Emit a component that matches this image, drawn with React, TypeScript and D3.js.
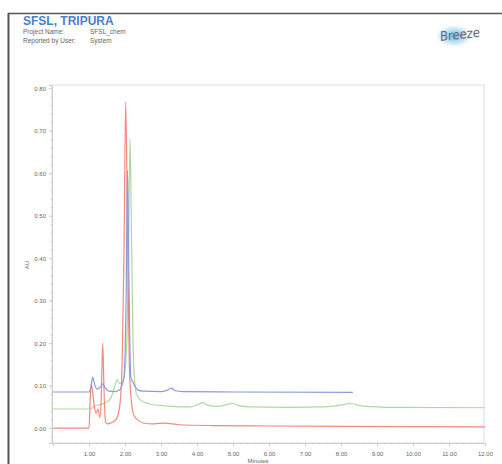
import React, { useRef, useEffect } from 'react';
import * as d3 from 'd3';

// retention times (min) and absorbance (AU) for each trace
const blueTimes = [0, 1.0, 1.05, 1.1, 1.15, 1.22, 1.3, 1.38, 1.45, 1.55, 1.7, 1.85, 1.97, 2.03, 2.07, 2.11, 2.16, 2.22, 2.27, 2.35, 2.5, 3.0, 3.2, 3.28, 3.4, 3.6, 5.0, 8.33];
const blueValues = [0.085, 0.085, 0.095, 0.12, 0.105, 0.092, 0.095, 0.104, 0.095, 0.087, 0.086, 0.09, 0.12, 0.3, 0.607, 0.35, 0.12, 0.108, 0.1, 0.09, 0.087, 0.086, 0.09, 0.094, 0.088, 0.086, 0.085, 0.084];

const greenTimes = [0, 1.05, 1.15, 1.3, 1.45, 1.6, 1.72, 1.78, 1.85, 1.95, 2.05, 2.1, 2.14, 2.18, 2.24, 2.32, 2.5, 2.8, 3.2, 3.8, 4.05, 4.15, 4.3, 4.6, 4.9, 5.0, 5.15, 5.5, 6.5, 7.5, 8.0, 8.25, 8.6, 9.5, 12];
const greenValues = [0.045, 0.045, 0.052, 0.055, 0.06, 0.07, 0.1, 0.115, 0.105, 0.11, 0.2, 0.45, 0.68, 0.45, 0.15, 0.08, 0.062, 0.055, 0.052, 0.05, 0.056, 0.06, 0.054, 0.051, 0.057, 0.058, 0.053, 0.05, 0.049, 0.05, 0.054, 0.058, 0.052, 0.049, 0.048];

const redTimes = [0, 1.0, 1.03, 1.06, 1.1, 1.15, 1.2, 1.25, 1.3, 1.34, 1.38, 1.42, 1.46, 1.52, 1.6, 1.75, 1.85, 1.92, 1.97, 2.02, 2.07, 2.12, 2.18, 2.25, 2.35, 2.5, 2.8, 3.1, 3.5, 4.5, 6, 8, 12];
const redValues = [0.0, 0.0, 0.06, 0.105, 0.085, 0.05, 0.035, 0.045, 0.025, 0.07, 0.2, 0.08, 0.015, 0.01, 0.012, 0.02, 0.05, 0.15, 0.4, 0.768, 0.45, 0.15, 0.06, 0.03, 0.02, 0.012, 0.01, 0.012, 0.008, 0.006, 0.005, 0.004, 0.003];

const xTicks = [1, 2, 3, 4, 5, 6, 7, 8, 9, 10, 11, 12];
const yTicks = [0, 0.1, 0.2, 0.3, 0.4, 0.5, 0.6, 0.7, 0.8];

const App = () => {
  const svgRef = useRef<SVGSVGElement>(null);

  useEffect(() => {
    if (!svgRef.current) return;
    const svg = d3.select(svgRef.current);
    svg.selectAll('*').remove();

    const left = 52, right = 484, top = 85, bottom = 443;
    const font = 'Liberation Sans, Arial, sans-serif';

    // page frame
    svg.append('line').attr('x1', 8).attr('x2', 502).attr('y1', 13.5).attr('y2', 13.5)
      .attr('stroke', '#555').attr('stroke-width', 1.5);
    svg.append('line').attr('x1', 8.5).attr('x2', 8.5).attr('y1', 13).attr('y2', 464)
      .attr('stroke', '#555').attr('stroke-width', 2);

    // header
    svg.append('text').attr('x', 23).attr('y', 25).attr('font-family', font)
      .attr('font-size', 12).attr('font-weight', 'bold').attr('fill', '#4a7fc4')
      .text('SFSL, TRIPURA');
    const info = [['Project Name:', 'SFSL_chem'], ['Reported by User:', 'System']];
    info.forEach((row, i) => {
      svg.append('text').attr('x', 23).attr('y', 34 + i * 8.5).attr('font-family', font)
        .attr('font-size', 6.5).attr('fill', '#666').text(row[0]);
      svg.append('text').attr('x', 90).attr('y', 34 + i * 8.5).attr('font-family', font)
        .attr('font-size', 6.5).attr('fill', '#666').text(row[1]);
    });

    // Breeze logo
    const defs = svg.append('defs');
    const grad = defs.append('radialGradient').attr('id', 'breezeGlow');
    grad.append('stop').attr('offset', '0%').attr('stop-color', '#5ab4e8').attr('stop-opacity', 0.9);
    grad.append('stop').attr('offset', '100%').attr('stop-color', '#5ab4e8').attr('stop-opacity', 0);
    svg.append('ellipse').attr('cx', 454).attr('cy', 36).attr('rx', 18).attr('ry', 11)
      .attr('fill', 'url(#breezeGlow)');
    svg.append('text').attr('transform', 'translate(440,41) rotate(-6) skewX(-6)')
      .attr('font-family', 'DejaVu Sans Condensed, sans-serif').attr('font-size', 13)
      .attr('fill', '#666').text('Breeze');

    const x = d3.scaleLinear().domain([0, 12]).range([left + 1, right + 1]);
    const y = d3.scaleLinear().domain([-0.035, 0.8075]).range([bottom, top]);

    // plot frame
    svg.append('rect').attr('x', left).attr('y', top).attr('width', right - left)
      .attr('height', bottom - top).attr('fill', 'none').attr('stroke', '#ddd').attr('stroke-width', 1);

    // axes
    const xAxis = svg.append('g').attr('transform', `translate(0,${bottom})`)
      .call(d3.axisBottom(x).tickValues(xTicks).tickFormat(d3.format('.2f')).tickSize(3));
    xAxis.append('g').call(d3.axisBottom(x).tickValues(d3.range(0.2, 12, 0.2)).tickFormat(() => '').tickSize(1.5));
    const yAxis = svg.append('g').attr('transform', `translate(${left},0)`)
      .call(d3.axisLeft(y).tickValues(yTicks).tickFormat(d3.format('.2f')).tickSize(3));
    yAxis.append('g').call(d3.axisLeft(y).tickValues(d3.range(-0.02, 0.8, 0.02)).tickFormat(() => '').tickSize(1.5));
    [xAxis, yAxis].forEach(a => {
      a.selectAll('.domain').attr('stroke', '#ccc');
      a.selectAll('line').attr('stroke', '#ccc');
      a.selectAll('text').attr('font-family', font).attr('font-size', 6).attr('fill', '#666');
    });
    xAxis.selectAll('text').attr('dy', '1.2em');

    svg.append('text').attr('x', 258).attr('y', 463).attr('text-anchor', 'middle')
      .attr('font-family', font).attr('font-size', 6).attr('fill', '#666').text('Minutes');
    svg.append('text').attr('transform', 'translate(29,265) rotate(-90)').attr('text-anchor', 'middle')
      .attr('font-family', font).attr('font-size', 6).attr('fill', '#666').text('AU');

    const line = d3.line<[number, number]>()
      .x(d => x(d[0])).y(d => y(d[1])).curve(d3.curveMonotoneX);

    const traces = [
      { t: greenTimes, v: greenValues, color: '#afd89e' },
      { t: redTimes, v: redValues, color: '#f0897e' },
      { t: blueTimes, v: blueValues, color: '#8e9cd6' },
    ];
    traces.forEach(tr => {
      const pts = tr.t.map((t, i) => [t, tr.v[i]] as [number, number]);
      svg.append('path').datum(pts).attr('d', line).attr('fill', 'none')
        .attr('stroke', tr.color).attr('stroke-width', 1.2);
    });
  }, []);

  return (
    <svg ref={svgRef} width={502} height={464}
      style={{ position: 'absolute', left: 0, top: 0, background: '#fff' }} />
  );
};

export default App;
